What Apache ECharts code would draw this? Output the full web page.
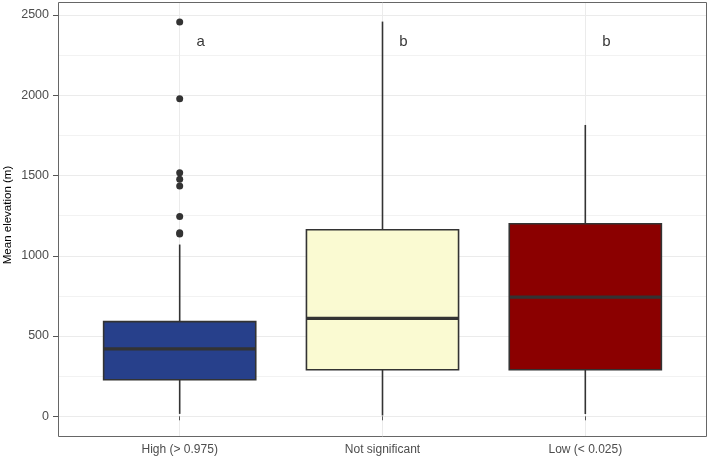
<!DOCTYPE html>
<html>
<head>
<meta charset="utf-8">
<script src="https://cdn.jsdelivr.net/npm/echarts@6/dist/echarts.min.js"></script>
<style>html,body{margin:0;padding:0;background:#fff;}#c{width:709px;height:459px;}</style>
</head>
<body>
<div id="c"></div>
<script>
// ---- data ----
const categories = ['High (> 0.975)', 'Not significant', 'Low (< 0.025)'];
// [lower whisker, Q1, median, Q3, upper whisker]
const boxStats = [
  [15, 228, 420, 590, 1070],
  [5, 290, 610, 1162, 2459],
  [14, 290, 742, 1200, 1815]
];
const outlierCategory = [0, 0, 0, 0, 0, 0, 0, 0];
const outlierValues = [2456, 1978, 1518, 1477, 1435, 1244, 1144, 1136];
const letters = ['a', 'b', 'b'];
const letterY = [2335, 2335, 2335];
const fillColors = ['#27408B', '#FAFAD2', '#8B0000'];
const yTicks = [0, 500, 1000, 1500, 2000, 2500];

// ---- layout helpers ----
const W = 709, H = 459;
const panelL = 58, panelR = 707, panelT = 2, panelB = 436;
const y0px = 416.3, y2500px = 15;
const pxPerUnit = (y0px - y2500px) / 2500;
const unitW = (panelR - panelL) / 3.2;
const c0 = panelL + 0.6 * unitW, c2 = panelL + 2.6 * unitW;
const yMinFull = -(panelB - y0px) / pxPerUnit;
const yMaxFull = 2500 + (y2500px - panelT) / pxPerUnit;

const chart = echarts.init(document.getElementById('c'), null, {renderer: 'canvas'});
const font = 'Liberation Sans, Arial, sans-serif';

const boxData = boxStats.map((s, i) => [i].concat(s));
const outliers = outlierValues.map((v, k) => [outlierCategory[k], v]);
const letterData = letters.map((t, i) => ({value: [i, letterY[i]], name: t}));

chart.setOption({
  animation: false,
  backgroundColor: '#fff',
  grid: [
    {left: panelL, right: W - panelR, top: y2500px, bottom: H - y0px},
    {left: c0, right: W - c2, top: panelT, bottom: H - panelB}
  ],
  xAxis: [
    {gridIndex: 0, type: 'value', min: 0, max: 1, show: false},
    {gridIndex: 1, type: 'value', min: 0, max: 2, interval: 1,
      axisLine: {show: false},
      axisTick: {show: true, length: 4, lineStyle: {color: '#555', width: 1}},
      axisLabel: {show: true, margin: 8, color: '#4D4D4D', fontSize: 12, fontFamily: font,
        formatter: v => categories[Math.round(v)] || ''},
      splitLine: {show: true, lineStyle: {color: '#EBEBEB', width: 1}}
    }
  ],
  yAxis: [
    {gridIndex: 0, type: 'value', min: yTicks[0], max: yTicks[yTicks.length - 1], interval: 500,
      axisLine: {show: false},
      axisTick: {show: true, length: 5, lineStyle: {color: '#555', width: 1}},
      axisLabel: {show: true, margin: 9, color: '#4D4D4D', fontSize: 12.5, fontFamily: font,
        formatter: v => String(v)},
      splitLine: {show: true, lineStyle: {color: '#EBEBEB', width: 1}},
      minorTick: {show: false, splitNumber: 2},
      minorSplitLine: {show: true, lineStyle: {color: '#F2F2F2', width: 1}}
    },
    {gridIndex: 1, type: 'value', min: yMinFull, max: yMaxFull, show: false}
  ],
  graphic: [
    {type: 'rect', z: 100, silent: true,
      shape: {x: panelL + 0.5, y: panelT + 0.5, width: panelR - panelL - 1, height: panelB - panelT},
      style: {fill: 'none', stroke: '#666', lineWidth: 1}},
    {type: 'text', x: 8, y: 215, rotation: Math.PI / 2, silent: true,
      style: {text: 'Mean elevation (m)', fill: '#000', font: '11.5px ' + font,
        textAlign: 'center', textVerticalAlign: 'middle'}}
  ],
  series: [
    {
      type: 'custom', xAxisIndex: 1, yAxisIndex: 1, clip: false, z: 3,
      data: boxData,
      renderItem: function (params, api) {
        const i = api.value(0);
        const lo = api.coord([i, api.value(1)]);
        const q1 = api.coord([i, api.value(2)]);
        const md = api.coord([i, api.value(3)]);
        const q3 = api.coord([i, api.value(4)]);
        const hi = api.coord([i, api.value(5)]);
        const hw = api.size([0.75, 0])[0] / 2;
        const x = lo[0];
        const stroke = '#333';
        return {
          type: 'group',
          children: [
            {type: 'line', shape: {x1: x, y1: lo[1], x2: x, y2: q1[1]}, style: {stroke: stroke, lineWidth: 1.6}},
            {type: 'line', shape: {x1: x, y1: q3[1], x2: x, y2: hi[1]}, style: {stroke: stroke, lineWidth: 1.6}},
            {type: 'rect', shape: {x: x - hw, y: q3[1], width: 2 * hw, height: q1[1] - q3[1]},
              style: {fill: fillColors[i], stroke: stroke, lineWidth: 1.6}},
            {type: 'line', shape: {x1: x - hw, y1: md[1], x2: x + hw, y2: md[1]}, style: {stroke: stroke, lineWidth: 3.2}}
          ]
        };
      }
    },
    {
      type: 'scatter', xAxisIndex: 1, yAxisIndex: 1, clip: false, z: 4,
      data: outliers, symbol: 'circle', symbolSize: 7,
      itemStyle: {color: '#333', opacity: 1}
    },
    {
      type: 'scatter', xAxisIndex: 1, yAxisIndex: 1, clip: false, z: 5,
      data: letterData, symbolSize: 0,
      label: {show: true, position: 'inside', offset: [21, 0], formatter: p => p.name,
        color: '#000', fontSize: 15, fontFamily: font}
    }
  ]
});
</script>
</body>
</html>
